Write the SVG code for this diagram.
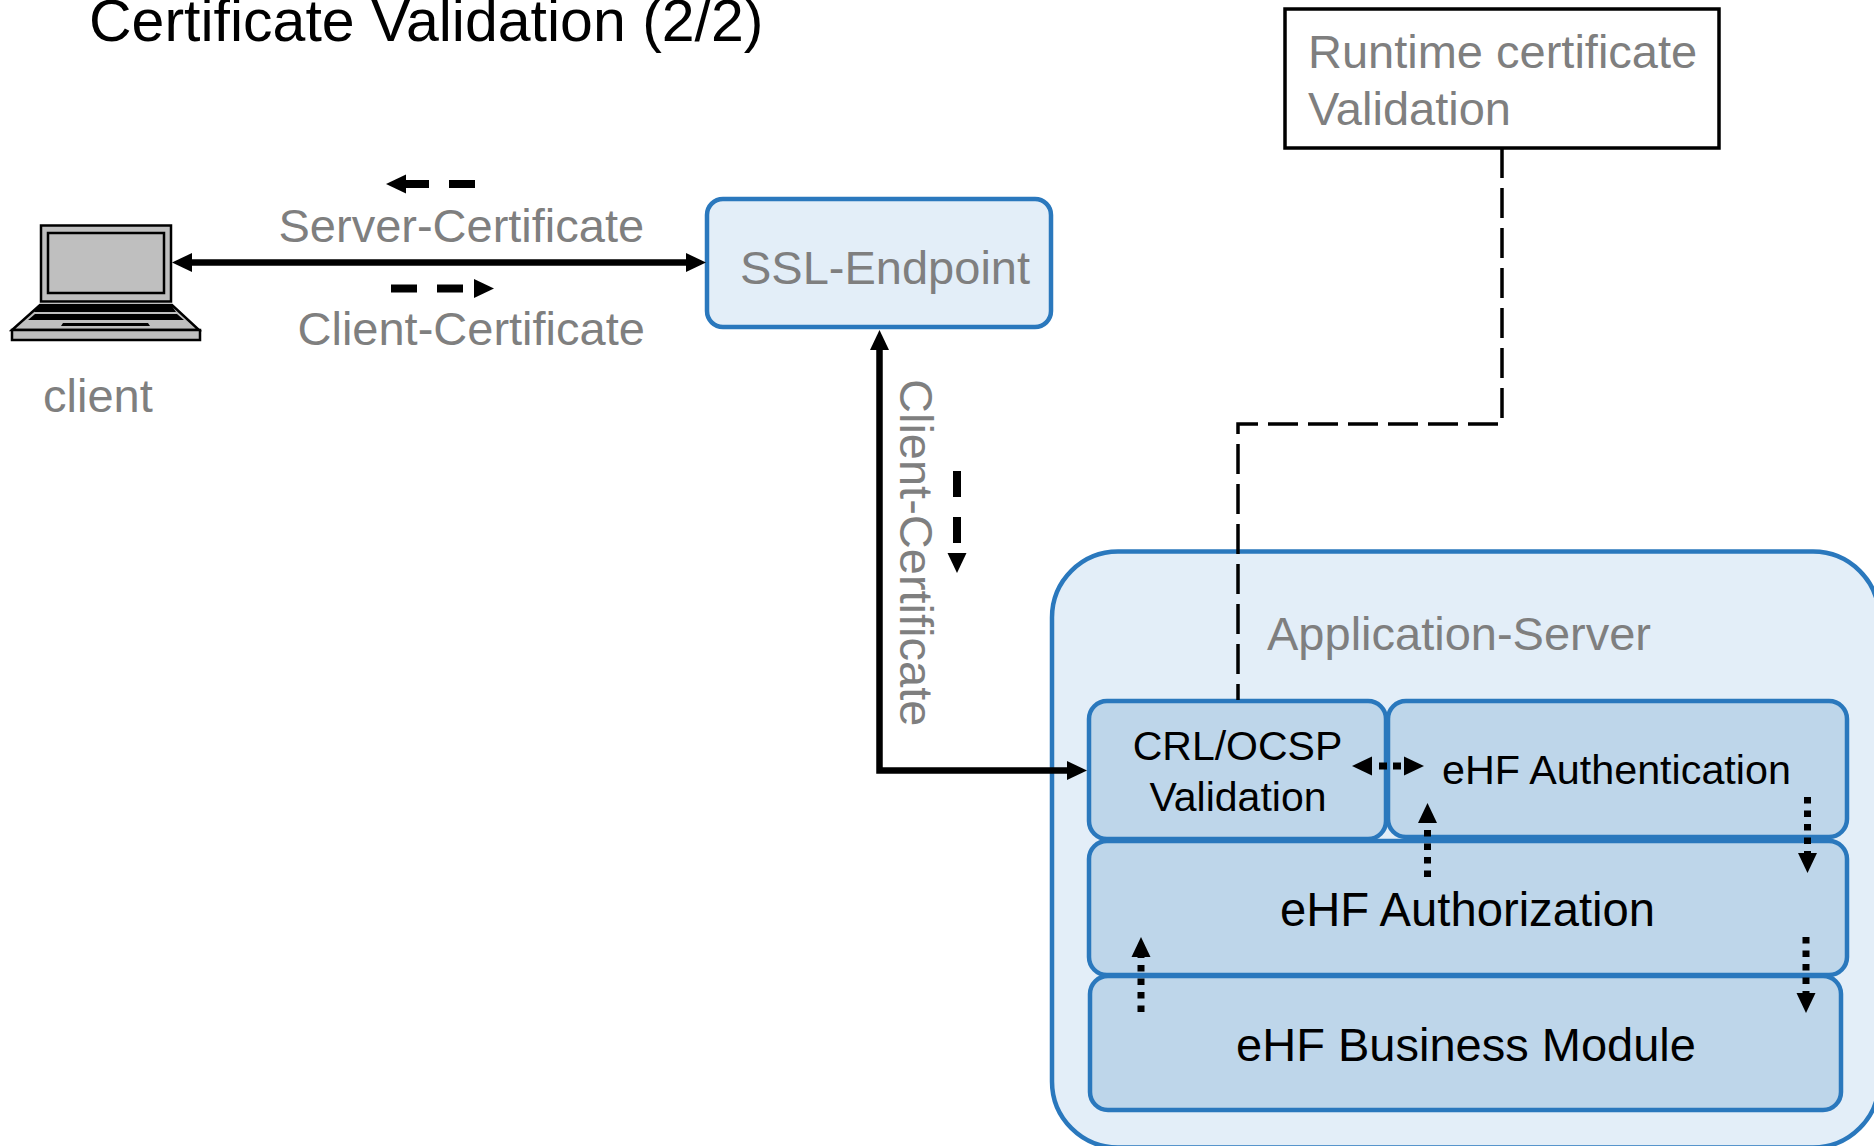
<svg xmlns="http://www.w3.org/2000/svg" width="1874" height="1146" viewBox="0 0 1874 1146">
<style>
text{font-family:"Liberation Sans",Arial,sans-serif}
.g{fill:#7f7f7f;font-size:47px}
.k{fill:#000}
.b{stroke:#2a78bd;stroke-width:4.500}
.l{fill:#e3eef8}
.m{fill:#bed6ea}
.line{fill:none;stroke:#000}
.solid{stroke-width:6.500}
.dash{stroke-width:8;stroke-dasharray:26 20}
.dot{stroke-width:7;stroke-dasharray:6.500 7}
.lap{stroke:#000;stroke-width:2.500;fill:#bfbfbf}
</style>
<defs>
<marker id="a" markerUnits="userSpaceOnUse" markerWidth="20" markerHeight="20" refX="0" refY="10" orient="auto-start-reverse" viewBox="0 0 20 20"><path d="M0 0.500L20 10L0 19.500z"/></marker>
</defs>
<text x="89" y="41" font-size="59" class="k">Certificate Validation (2/2)</text>
<g id="runtime"><rect x="1285" y="9" width="434" height="139" fill="#fff" stroke="#000" stroke-width="3.500"/><text class="g" x="1308" y="68">Runtime certificate</text><text class="g" x="1308" y="125">Validation</text></g>
<g id="client">
<rect class="lap" x="41" y="225.500" width="130" height="76"/><rect class="lap" x="48" y="233" width="116" height="60"/>
<path class="lap" d="M40 305H172L199 330H12z"/><rect class="lap" x="12" y="330" width="188" height="10"/>
<path d="M38 306H172L176 312H34zM35 314H177L184 320H28zM63 323H148L150 326H61z" fill="#000"/>
<text class="g" x="43" y="412">client</text></g>
<g id="ssl"><rect class="b l" x="707" y="199" width="344" height="128" rx="16"/><text class="g" x="740" y="284">SSL-Endpoint</text></g>
<g id="app"><rect class="b l" x="1052" y="551.500" width="827" height="596" rx="66"/><text class="g" x="1267" y="650">Application-Server</text></g>
<g id="crl"><rect class="b m" x="1089" y="701" width="297" height="138" rx="18"/><text class="k" font-size="41" text-anchor="middle" x="1237.500" y="760">CRL/OCSP</text><text class="k" font-size="41" text-anchor="middle" x="1238" y="811">Validation</text></g>
<g id="auth"><rect class="b m" x="1388" y="701" width="459" height="136" rx="18"/><text class="k" font-size="41.300" x="1442" y="784">eHF Authentication</text></g>
<g id="authz"><rect class="b m" x="1089" y="841" width="758" height="134" rx="18"/><text class="k" font-size="47.200" text-anchor="middle" x="1467.500" y="926">eHF Authorization</text></g>
<g id="business"><rect class="b m" x="1090" y="976" width="751" height="134" rx="18"/><text class="k" font-size="47" text-anchor="middle" x="1466" y="1061">eHF Business Module</text></g>
<g id="connectors">
<path class="line solid" d="M192 262.500H686" marker-start="url(#a)" marker-end="url(#a)"/>
<path class="line solid" d="M879.500 350V770.500H1067" marker-start="url(#a)" marker-end="url(#a)"/>
<path class="line" stroke-width="3.500" stroke-dasharray="30 10" d="M1502 148V424H1238V700"/>
<path class="line dash" d="M475 184H406" marker-end="url(#a)"/>
<path class="line dash" d="M391 288.500H474" marker-end="url(#a)"/>
<path class="line dash" d="M957 471V553" marker-end="url(#a)"/>
<path class="line" stroke-width="7" stroke-dasharray="0 7 8 6 8 7" d="M1372 766H1404" marker-start="url(#a)" marker-end="url(#a)"/>
<path class="line dot" d="M1427.500 877V823" marker-end="url(#a)"/>
<path class="line dot" d="M1807.500 797V853" marker-end="url(#a)"/>
<path class="line dot" d="M1141 1012V957" marker-end="url(#a)"/>
<path class="line dot" d="M1806 937V993" marker-end="url(#a)"/>
</g>
<text class="g" x="278.500" y="242">Server-Certificate</text>
<text class="g" x="297.500" y="345">Client-Certificate</text>
<text class="g" transform="translate(899.500 379) rotate(90)">Client-Certificate</text>
</svg>
